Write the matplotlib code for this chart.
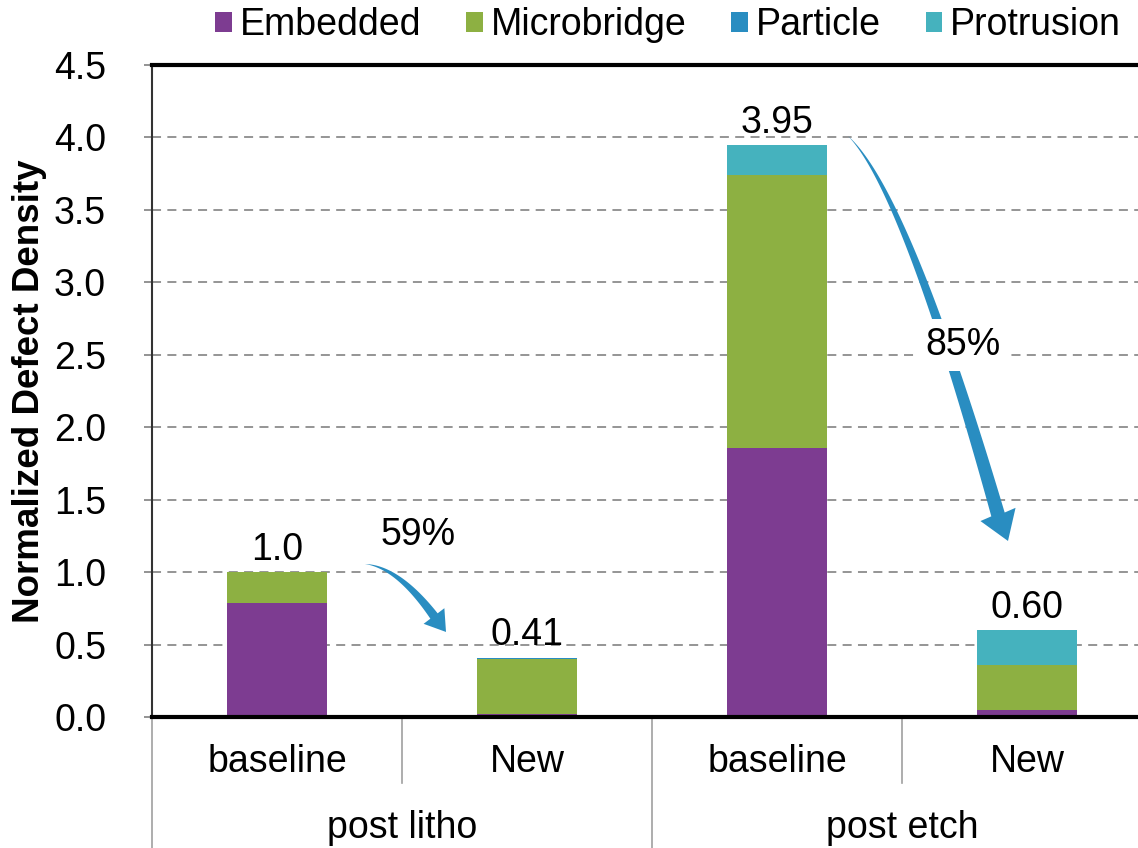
import numpy as np
import matplotlib
matplotlib.use("Agg")
import matplotlib.pyplot as plt
from matplotlib.patches import Patch, Polygon

plt.rcParams['font.family'] = ['Liberation Sans', 'DejaVu Sans']

# Defect density per category (stacked by defect type)
categories = ['baseline', 'New', 'baseline', 'New']
groups = ['post litho', 'post etch']
embedded = [0.79, 0.02, 1.86, 0.05]
microbridge = [0.21, 0.38, 1.88, 0.31]
particle = [0.00, 0.01, 0.00, 0.00]
protrusion = [0.00, 0.00, 0.21, 0.24]
total_fmt = ['{:.1f}', '{:.2f}', '{:.2f}', '{:.2f}']

series = [('Embedded', embedded, '#7D3C91'),
          ('Microbridge', microbridge, '#8DB042'),
          ('Particle', particle, '#298DC1'),
          ('Protrusion', protrusion, '#45B2BE')]

ARROW_COLOR = '#298DC1'
FS = 27


def curved_arrow(ax, start, ctrl, end, tip, shaft_w, head_w, color):
    # tapered quadratic-bezier arrow, widths given in points
    px = ax.figure.dpi / 72.0
    p0, p1, p2, pt = (ax.transData.transform(p) for p in (start, ctrl, end, tip))
    t = np.linspace(0, 1, 80)[:, None]
    curve = (1 - t) ** 2 * p0 + 2 * (1 - t) * t * p1 + t ** 2 * p2
    deriv = 2 * (1 - t) * (p1 - p0) + 2 * t * (p2 - p1)
    normal = np.column_stack([-deriv[:, 1], deriv[:, 0]])
    normal /= np.linalg.norm(normal, axis=1)[:, None]
    half = 0.5 * shaft_w * px * t
    left = curve + normal * half
    right = curve - normal * half
    hd = (pt - p2) / np.linalg.norm(pt - p2)
    hn = np.array([-hd[1], hd[0]])
    wing_l = p2 + hn * head_w * px / 2
    wing_r = p2 - hn * head_w * px / 2
    pts = np.vstack([left, wing_l, pt, wing_r, right[::-1]])
    pts = ax.transData.inverted().transform(pts)
    ax.add_patch(Polygon(pts, closed=True, facecolor=color, edgecolor='none', zorder=4))


fig = plt.figure(figsize=(11.38, 8.48), dpi=100)
ax = fig.add_axes([152 / 1138, 131 / 848, 1000 / 1138, 652 / 848])

x = np.arange(len(categories))
bottom = np.zeros(len(categories))
for name, vals, color in series:
    vals = np.array(vals)
    ax.bar(x, vals, width=0.4, bottom=bottom, color=color, label=name, zorder=2)
    bottom += vals
totals = bottom

for xi, tot, fmt in zip(x, totals, total_fmt):
    ax.annotate(fmt.format(tot), (xi, tot), xytext=(0, 3), textcoords='offset points',
                ha='center', va='bottom', fontsize=FS, zorder=5)

ax.set_xlim(-0.5, 3.5)
ax.set_ylim(0, 4.5)
ax.set_yticks(np.arange(0, 4.51, 0.5))
ax.yaxis.set_major_formatter(plt.FormatStrFormatter('%.1f'))
ax.tick_params(axis='y', labelsize=FS, length=6, width=1.2, color='#808080', pad=27)
ax.set_xticks([])

ax.set_axisbelow(True)
for gy in np.arange(0.5, 4.1, 0.5):
    ax.axhline(gy, color='#8C8C8C', linestyle=(0, (5, 3.5)), linewidth=1.3, zorder=1)

for side in ['top', 'bottom']:
    ax.spines[side].set_linewidth(3)
    ax.spines[side].set_color('black')
ax.spines['left'].set_linewidth(1.5)
ax.spines['left'].set_color('#333333')
ax.spines['right'].set_visible(False)

# two-level category axis below the plot
xt = ax.get_xaxis_transform()
for xi, cat in zip(x, categories):
    ax.text(xi, -0.069, cat, transform=xt, ha='center', va='center', fontsize=FS)
for gi, grp in enumerate(groups):
    ax.text(2 * gi + 0.5, -0.170, grp, transform=xt, ha='center', va='center', fontsize=FS)
for sx in [0.5, 2.5]:
    ax.plot([sx, sx], [0, -0.101], transform=xt, color='#A0A0A0', lw=1.2, clip_on=False)
for sx in [-0.5, 1.5]:
    ax.plot([sx, sx], [0, -0.205], transform=xt, color='#A0A0A0', lw=1.2, clip_on=False)

fig.text(29.5 / 1138, 1 - 391 / 848, 'Normalized Defect Density', rotation=90,
         ha='center', va='center', fontsize=26.5, fontweight='bold')

# reduction arrows
drop_litho = 1 - totals[1] / totals[0]
drop_etch = 1 - totals[3] / totals[2]
curved_arrow(ax, (0.352, 1.056), (0.484, 1.035), (0.628, 0.697), (0.676, 0.587),
             6.5, 18.7, ARROW_COLOR)
curved_arrow(ax, (2.284, 4.01), (2.512, 3.637), (2.884, 1.398), (2.924, 1.215),
             10, 27, ARROW_COLOR)
ax.text(0.564, 1.256, '{:.0f}%'.format(drop_litho * 100), ha='center', va='center',
        fontsize=FS, zorder=5)
ax.text(2.744, 2.567, '{:.0f}%'.format(drop_etch * 100), ha='center', va='center',
        fontsize=FS, zorder=5,
        bbox=dict(facecolor='white', edgecolor='none', pad=6))

handles = [Patch(facecolor=c, label=n) for n, _, c in series]
fig.legend(handles=handles, loc='center', bbox_to_anchor=(0.587, 1 - 25 / 848), ncol=4,
           frameon=False, fontsize=FS, handlelength=0.45, handleheight=0.45,
           handletextpad=0.2, columnspacing=1.2, borderpad=0, borderaxespad=0)

fig.savefig('out.png', dpi=100)
